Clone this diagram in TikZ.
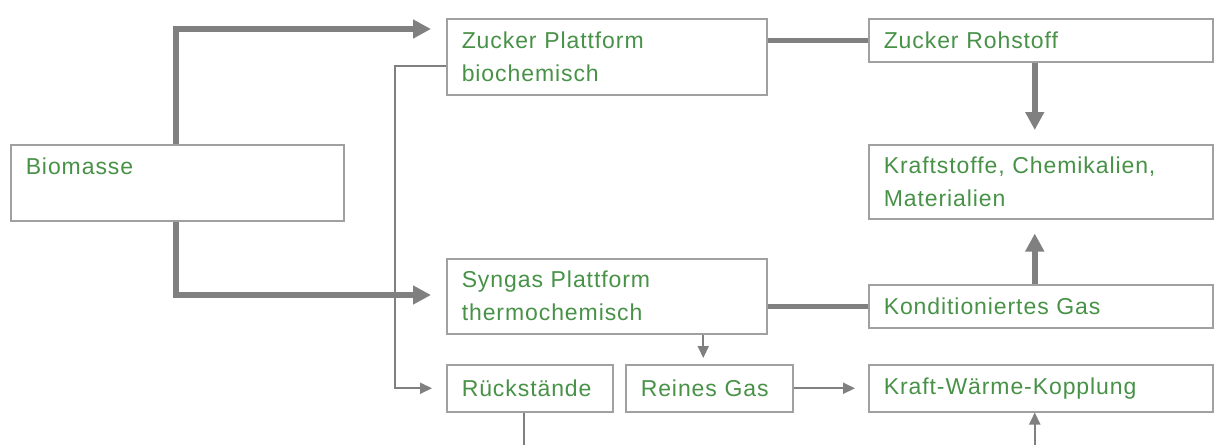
\documentclass[tikz,border=0pt]{standalone}
\usepackage{fontspec}
\setmainfont{Liberation Sans}[LetterSpace=4]
\usetikzlibrary{arrows.meta}
\definecolor{boxtext}{RGB}{72,146,72}
\definecolor{linegray}{RGB}{128,128,128}
\definecolor{boxgray}{RGB}{160,160,160}

\begin{document}
\begin{tikzpicture}[x=1pt, y=-1pt,
    box/.style = {draw=boxgray, line width=1.5pt, fill=white, text=boxtext, anchor=north west, align=left, inner xsep=15pt, inner ysep=0pt, font=\fontsize{23}{33}\selectfont},
    fat/.style = {draw=linegray, line width=5.5pt},
    fatarrow/.style = {fat, -{Triangle[length=18pt,width=18pt]}},
    slim/.style = {draw=linegray, line width=2pt},
    slimarrow/.style = {slim, -{Triangle[length=12pt,width=11pt]}}]
    \useasboundingbox (0,0) rectangle (1215,445);
    \node[box, text width=303pt, minimum height=76pt] (bio) at (10,144) {Biomasse\\\mbox{}};
    \node[box, text width=290pt, minimum height=76pt] (zp) at (446,18) {Zucker Plattform\\biochemisch};
    \node[box, text width=290pt, minimum height=75pt] (sp) at (446,258) {Syngas Plattform\\thermochemisch};
    \node[box, text width=136pt, minimum height=47pt] (rs) at (446,364) {Rückstände};
    \node[box, text width=137pt, minimum height=47pt] (rg) at (625,364) {Reines Gas};
    \node[box, text width=314pt, minimum height=43pt] (zr) at (868,18) {Zucker Rohstoff};
    \node[box, text width=314pt, minimum height=74pt] (ks) at (868,144) {Kraftstoffe, Chemikalien,\\Materialien};
    \node[box, text width=314pt, minimum height=43pt] (kg) at (868,284) {Konditioniertes Gas};
    \node[box, text width=314pt, minimum height=47pt] (kw) at (868,364) {Kraft-Wärme-Kopplung};
    \coordinate (bx) at (176,0);
    \coordinate (bot) at (0,445);
    \draw[fatarrow, shorten >=15pt] (bio.north -| bx) |- ([yshift=-11pt]zp.north west);
    \draw[fatarrow, shorten >=15pt] (bio.south -| bx) |- ([yshift=-37pt]sp.north west);
    \draw[slimarrow, shorten >=14pt] ([yshift=-48pt]zp.north west) -- ++(-51,0) |- (rs.west);
    \draw[fat] (zp.east |- zr.west) -- (zr.west);
    \draw[fat] (sp.east |- kg.west) -- (kg.west);
    \draw[fatarrow, shorten >=14pt] ([xshift=-6pt]zr.south) -- ([xshift=-6pt]zr.south |- ks.north);
    \draw[fatarrow, shorten >=14pt] ([xshift=-6pt]kg.north) -- ([xshift=-6pt]kg.north |- ks.south);
    \draw[slimarrow, shorten >=6pt] ([xshift=-6pt]rg.north |- sp.south) -- ([xshift=-6pt]rg.north);
    \draw[slimarrow, shorten >=13pt] (rg.east) -- (kw.west);
    \draw[slim] ([xshift=-6pt]rs.south) -- ([xshift=-6pt]rs.south |- bot);
    \draw[slimarrow] ([xshift=-6pt]kw.south |- bot) -- ([xshift=-6pt]kw.south);
\end{tikzpicture}
\end{document}
